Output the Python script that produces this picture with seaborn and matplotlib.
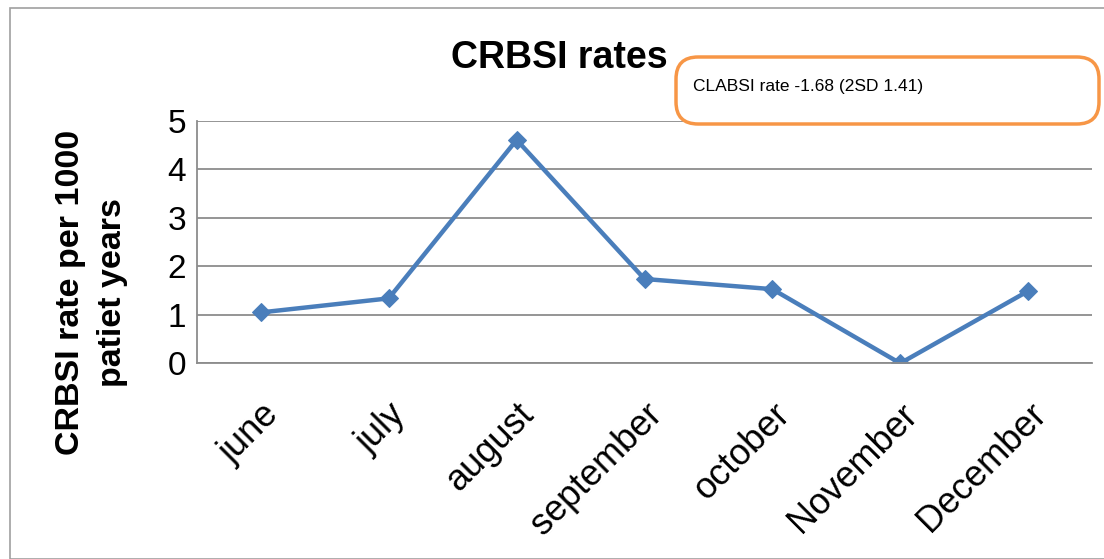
import matplotlib
matplotlib.use("Agg")
import matplotlib.pyplot as plt
from matplotlib.patches import Rectangle, FancyBboxPatch
import seaborn as sns
import pandas as pd

months = ["june", "july", "august", "september", "october", "November", "December"]
rates = [1.05, 1.34, 4.61, 1.74, 1.53, 0.0, 1.49]
yticks = [0, 1, 2, 3, 4, 5]
title = "CRBSI rates"
ylabel = "CRBSI rate per 1000\npatiet years"
note = "CLABSI rate -1.68 (2SD 1.41)"

sns.set_theme(style="white")
fam = ["Liberation Sans Narrow", "Liberation Sans", "DejaVu Sans"]
plt.rcParams["font.family"] = fam
plt.rcParams["text.color"] = "black"
plt.rcParams["xtick.color"] = "black"
plt.rcParams["ytick.color"] = "black"
plt.rcParams["axes.labelcolor"] = "black"

df = pd.DataFrame({"month": months, "rate": rates})

fig = plt.figure(figsize=(11.04, 5.59), dpi=100)
ax = fig.add_axes([197/1104, 1-363.3/559, (1092-197)/1104, (363.3-121)/559])

sns.lineplot(data=df, x="month", y="rate", ax=ax, sort=False, color="#4A7EBB",
             linewidth=3.2, marker="D", markersize=9, markeredgecolor="#4A7EBB")

ax.set_xlim(-0.5, len(months) - 0.5)
ax.set_ylim(0, 5)
ax.set_yticks(yticks)
ax.set_yticklabels([str(v) for v in yticks], fontsize=24)
ax.set_xticks(range(len(months)))
ax.set_xticklabels(months, rotation=45, ha="right", rotation_mode="anchor", fontsize=26)
ax.tick_params(axis="both", length=0, pad=8)
ax.tick_params(axis="x", pad=24)
ax.grid(axis="y", color="#8c8c8c", linewidth=1.3)
ax.set_axisbelow(True)
for s in ["top", "right"]:
    ax.spines[s].set_visible(False)
for s in ["left", "bottom"]:
    ax.spines[s].set_color("#8c8c8c")
    ax.spines[s].set_linewidth(1.3)
ax.set_xlabel("")
ax.set_ylabel(ylabel, fontsize=24.5, fontweight="bold", linespacing=1.45)
ax.yaxis.set_label_coords(-0.077, 0.294)

fig.text(0.507, 0.897, title, ha="center", va="center", fontsize=27, fontweight="bold")

# outer chart border
fig.patches.append(Rectangle((10/1104, 0), 1.2, 1-8/559, transform=fig.transFigure,
                             fill=False, edgecolor="#a0a0a0", linewidth=1.2))
# annotation box
fig.patches.append(FancyBboxPatch((676/1104, 1-124/559), (1099-676)/1104, (124-57)/559,
                                  boxstyle="round,pad=0,rounding_size=0.02",
                                  transform=fig.transFigure, facecolor="white",
                                  edgecolor="#F79646", linewidth=2.5, mutation_aspect=1.97))
fig.text(693/1104, 1-87/559, note, ha="left", va="center", fontsize=12.5)

fig.savefig("out.png", dpi=100)
